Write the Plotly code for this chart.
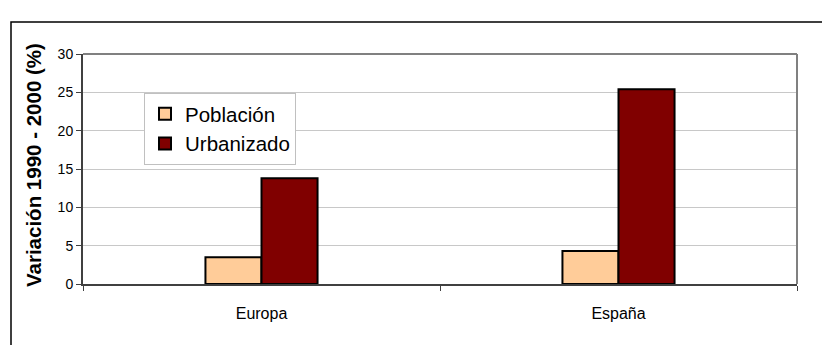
import plotly.graph_objects as go

categories = ["Europa", "España"]
poblacion = [3.5, 4.3]
urbanizado = [13.8, 25.4]
y_ticks = [0, 5, 10, 15, 20, 25, 30]

# page offset introduced by the default 8px body margin
OFF = 8
W, H = 830 - OFF, 345 - OFF
L, T = 83 - OFF, 54 - OFF
pw, ph = 714, 230
R, B = W - L - pw, H - T - ph

def px_x(x):
    return (x - OFF - L) / pw

def px_y(y):
    return 1 - (y - OFF - T) / ph

FONT = "Liberation Sans, Arial, sans-serif"

fig = go.Figure()
fig.add_trace(go.Bar(name="Población", x=categories, y=poblacion,
                     marker=dict(color="#FFCC99", line=dict(color="black", width=2))))
fig.add_trace(go.Bar(name="Urbanizado", x=categories, y=urbanizado,
                     marker=dict(color="#800000", line=dict(color="black", width=2))))

fig.update_layout(
    width=W, height=H,
    margin=dict(l=L, r=R, t=T, b=B),
    paper_bgcolor="white", plot_bgcolor="white",
    barmode="group", bargap=0.686, bargroupgap=0,
    font=dict(family=FONT, color="black", size=14),
    showlegend=True,
    legend=dict(x=px_x(144), y=px_y(93), xanchor="left", yanchor="top",
                bordercolor="#c0c0c0", borderwidth=1, bgcolor="white",
                font=dict(size=20.5), itemwidth=30),
    xaxis=dict(showgrid=False, showline=True, linecolor="#404040", linewidth=2,
               ticks="outside", tickson="boundaries", ticklen=5, tickcolor="#404040",
               tickfont=dict(size=16), ticklabelstandoff=14),
    yaxis=dict(range=[0, 30], tickvals=y_ticks, showgrid=True, gridcolor="#c8c8c8",
               showline=True, linecolor="#404040", linewidth=2,
               ticks="outside", ticklen=5, tickcolor="#404040",
               tickfont=dict(size=14), zeroline=False),
)

fig.add_annotation(text="<b>Variación 1990 - 2000 (%)</b>", textangle=-90,
                   xref="paper", yref="paper", x=px_x(33), y=px_y(165),
                   xanchor="center", yanchor="middle", showarrow=False,
                   font=dict(size=20.5, family=FONT, color="black"))

# plot area border (top/right)
fig.add_shape(type="line", xref="paper", yref="paper", x0=0, x1=1, y0=1, y1=1,
              line=dict(color="#808080", width=2))
fig.add_shape(type="line", xref="paper", yref="paper", x0=1, x1=1, y0=0, y1=1,
              line=dict(color="#808080", width=2))
# outer chart border
fig.add_shape(type="rect", xref="paper", yref="paper",
              x0=px_x(11), x1=px_x(900), y0=px_y(420), y1=px_y(22),
              line=dict(color="black", width=1.5), layer="below")

fig.write_html("out.html")
